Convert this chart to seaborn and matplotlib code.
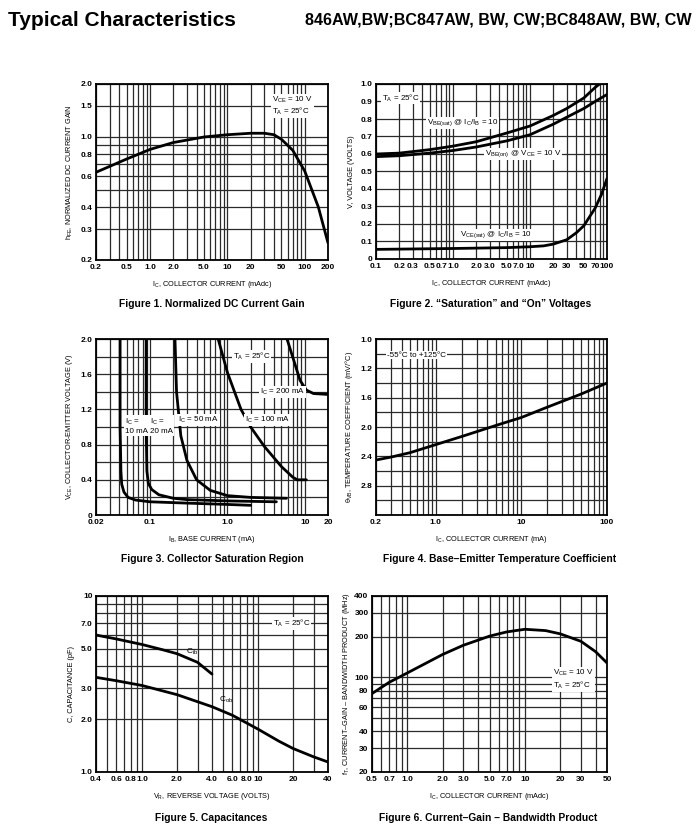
import matplotlib
matplotlib.use("Agg")
import matplotlib.pyplot as plt
import matplotlib.ticker as mticker
import seaborn as sns
import numpy as np

# Figure 1: normalized DC current gain
f1_ic = [0.2, 0.5, 1.0, 2.0, 5.0, 10, 20, 30, 40, 50, 70, 100, 150, 200]
f1_hfe = [0.63, 0.75, 0.85, 0.93, 1.0, 1.03, 1.05, 1.05, 1.03, 0.97, 0.84, 0.64, 0.40, 0.25]

# Figure 2: saturation and on voltages
f2_ic_sat = [0.1, 0.2, 0.5, 1.0, 2.0, 5.0, 10, 20, 30, 50, 70, 80]
f2_vbe_sat = [0.60, 0.605, 0.625, 0.645, 0.67, 0.72, 0.76, 0.82, 0.86, 0.92, 0.98, 1.0]
f2_ic_on = [0.1, 0.2, 0.5, 1.0, 2.0, 5.0, 10, 20, 30, 50, 70, 100]
f2_vbe_on = [0.585, 0.59, 0.605, 0.62, 0.64, 0.675, 0.71, 0.77, 0.81, 0.86, 0.90, 0.94]
f2_ic_ce = [0.1, 1.0, 5.0, 10, 15, 20, 30, 40, 50, 70, 85, 100]
f2_vce_sat = [0.055, 0.06, 0.065, 0.07, 0.075, 0.085, 0.11, 0.15, 0.19, 0.29, 0.37, 0.46]

# Figure 3: collector saturation region
f3_ib_10 = [0.041, 0.041, 0.042, 0.043, 0.046, 0.052, 0.065, 0.1, 0.3, 1.0, 2.0]
f3_vce_10 = [2.0, 1.0, 0.5, 0.35, 0.26, 0.2, 0.17, 0.15, 0.135, 0.12, 0.11]
f3_ib_20 = [0.089, 0.089, 0.091, 0.095, 0.105, 0.13, 0.2, 0.3, 1.0, 4.3]
f3_vce_20 = [2.0, 1.0, 0.5, 0.36, 0.29, 0.23, 0.19, 0.175, 0.16, 0.15]
f3_ib_50 = [0.21, 0.22, 0.25, 0.3, 0.4, 0.6, 1.0, 2.0, 5.8]
f3_vce_50 = [2.0, 1.4, 0.9, 0.62, 0.4, 0.28, 0.22, 0.2, 0.19]
f3_ib_100 = [0.76, 1.0, 1.5, 2.0, 3.0, 5.0, 7.0, 8.0, 10.5]
f3_vce_100 = [2.0, 1.62, 1.2, 1.0, 0.78, 0.55, 0.43, 0.4, 0.4]
f3_ib_200 = [5.9, 7.2, 8.7, 10.5, 13, 20]
f3_vce_200 = [2.0, 1.76, 1.53, 1.42, 1.38, 1.37]

# Figure 4: base-emitter temperature coefficient
f4_ic = [0.2, 0.3, 0.5, 1.0, 2.0, 5.0, 10, 20, 50, 100]
f4_theta = [2.45, 2.41, 2.35, 2.24, 2.13, 1.98, 1.87, 1.73, 1.55, 1.40]
f4_ticks = [0.8, 1.2, 1.6, 2.0, 2.4, 2.8]
f4_labels = ["1.0", "1.2", "1.6", "2.0", "2.4", "2.8"]

# Figure 5: capacitances
f5_vr_cib = [0.4, 0.6, 1.0, 1.5, 2.0, 3.0, 4.0]
f5_cib = [6.0, 5.7, 5.3, 4.95, 4.7, 4.2, 3.6]
f5_vr_cob = [0.4, 0.6, 1.0, 2.0, 4.0, 6.0, 10, 15, 20, 30, 40]
f5_cob = [3.45, 3.3, 3.1, 2.75, 2.35, 2.1, 1.75, 1.5, 1.36, 1.22, 1.14]

# Figure 6: current-gain bandwidth product
f6_ic = [0.5, 0.7, 1.0, 2.0, 3.0, 5.0, 7.0, 10, 15, 20, 30, 40, 50]
f6_ft = [76, 92, 108, 148, 173, 202, 217, 227, 222, 210, 185, 155, 128]

sns.set_style("white")
FONT = ["Liberation Sans Narrow", "Liberation Sans", "DejaVu Sans"]
plt.rcParams["font.family"] = FONT
plt.rcParams["mathtext.fontset"] = "custom"
plt.rcParams["mathtext.rm"] = "Liberation Sans"
plt.rcParams["mathtext.default"] = "regular"
for key in ["text.color", "axes.labelcolor", "xtick.color", "ytick.color"]:
    plt.rcParams[key] = "black"

W, H = 700, 836
fig = plt.figure(figsize=(W / 100, H / 100), dpi=100)
fig.patch.set_facecolor("white")

GRID = "#2a2a2a"
TICK_FS = 6.0
LAB_FS = 5.3
TITLE_FS = 7.4


def make_ax(l, r, t, b):
    ax = fig.add_axes([l / W, 1 - b / H, (r - l) / W, (b - t) / H])
    for s in ax.spines.values():
        s.set_linewidth(1.3)
        s.set_color("black")
        s.set_visible(True)
    return ax


def log_minor(lo, hi):
    vals = []
    for d in range(-3, 4):
        for m in range(1, 10):
            v = m * 10.0 ** d
            if lo * 0.999 <= v <= hi * 1.001:
                vals.append(v)
    return vals


def style(ax, xticks, xlabels, yticks, ylabels, xgrid, ygrid):
    ax.set_xticks(xticks)
    ax.set_xticklabels(xlabels)
    ax.set_yticks(yticks)
    ax.set_yticklabels(ylabels)
    ax.xaxis.set_minor_locator(mticker.FixedLocator(xgrid))
    ax.yaxis.set_minor_locator(mticker.FixedLocator(ygrid))
    ax.xaxis.set_minor_formatter(mticker.NullFormatter())
    ax.yaxis.set_minor_formatter(mticker.NullFormatter())
    ax.grid(which="minor", color=GRID, lw=0.9)
    ax.grid(which="major", color=GRID, lw=0.9)
    ax.tick_params(which="both", length=0, labelsize=TICK_FS)
    ax.tick_params(axis="x", pad=3)
    ax.tick_params(axis="y", pad=2.5)
    for lab in ax.get_xticklabels() + ax.get_yticklabels():
        lab.set_fontweight("bold")
    ax.set_axisbelow(True)


def labels(ax, xl, yl, ypad=4):
    ax.set_xlabel(xl, fontsize=LAB_FS)
    ax.xaxis.set_label_coords(0.5, -0.138)
    ax.xaxis.label.set_va("center")
    ax.set_ylabel(yl, fontsize=LAB_FS, labelpad=ypad)


def curve(ax, x, y):
    sns.lineplot(x=x, y=y, ax=ax, color="black", lw=2.0, sort=False,
                 estimator=None, legend=False)


def note(ax, x, y, s, ha="left"):
    ax.text(x, y, s, fontsize=5.8, ha=ha, va="center", family=FONT,
            bbox=dict(fc="white", ec="none", pad=0.6))


def ftext(x, y, s, **kw):
    kw.setdefault("family", FONT)
    fig.text(x / W, 1 - y / H, s, **kw)


def title(x, y, s):
    ftext(x, y, s, fontsize=TITLE_FS, fontweight="bold", ha="center", va="center")


# header
ftext(8, 20, "Typical Characteristics", fontsize=15, fontweight="bold",
      va="center", family=["Liberation Sans", "DejaVu Sans"])
ftext(305, 20, "846AW,BW;BC847AW, BW, CW;BC848AW, BW, CW", fontsize=11.6,
      fontweight="bold", va="center")

# ---- Figure 1
ax = make_ax(96, 328, 84, 260)
curve(ax, f1_ic, f1_hfe)
ax.set_xscale("log")
ax.set_yscale("log")
ax.set_xlim(0.2, 200)
ax.set_ylim(0.2, 2.0)
style(ax, [0.2, 0.5, 1, 2, 5, 10, 20, 50, 100, 200],
      ["0.2", "0.5", "1.0", "2.0", "5.0", "10", "20", "50", "100", "200"],
      [0.2, 0.3, 0.4, 0.6, 0.8, 1.0, 1.5, 2.0],
      ["0.2", "0.3", "0.4", "0.6", "0.8", "1.0", "1.5", "2.0"],
      log_minor(0.2, 200), log_minor(0.2, 2.0))
note(ax, 38, 1.5, "V$_{CE}$ = 10 V\nT$_A$ = 25°C")
labels(ax, "I$_C$, COLLECTOR CURRENT (mAdc)", "h$_{FE}$, NORMALIZED DC CURRENT GAIN")
title(212, 304, "Figure 1. Normalized DC Current Gain")

# ---- Figure 2
ax = make_ax(376, 607, 84, 259)
curve(ax, f2_ic_sat, f2_vbe_sat)
curve(ax, f2_ic_on, f2_vbe_on)
curve(ax, f2_ic_ce, f2_vce_sat)
ax.set_xscale("log")
ax.set_xlim(0.1, 100)
ax.set_ylim(0, 1.0)
style(ax, [0.1, 0.2, 0.3, 0.5, 0.7, 1, 2, 3, 5, 7, 10, 20, 30, 50, 70, 100],
      ["0.1", "0.2", "0.3", "0.5", "0.7", "1.0", "2.0", "3.0", "5.0", "7.0",
       "10", "20", "30", "50", "70", "100"],
      list(np.round(np.arange(0, 1.01, 0.1), 1)),
      ["0"] + ["%.1f" % v for v in np.arange(0.1, 1.01, 0.1)],
      log_minor(0.1, 100), [])
note(ax, 0.12, 0.92, "T$_A$ = 25°C")
note(ax, 0.46, 0.777, "V$_{BE(sat)}$ @ I$_C$/I$_B$ = 10")
note(ax, 2.6, 0.60, "V$_{BE(on)}$ @ V$_{CE}$ = 10 V")
note(ax, 1.23, 0.137, "V$_{CE(sat)}$ @ I$_C$/I$_B$ = 10")
labels(ax, "I$_C$, COLLECTOR CURRENT (mAdc)", "V, VOLTAGE (VOLTS)")
title(491, 304, "Figure 2. \u201cSaturation\u201d and \u201cOn\u201d Voltages")

# ---- Figure 3
ax = make_ax(96, 328, 339, 515)
for xs, ys in [(f3_ib_10, f3_vce_10), (f3_ib_20, f3_vce_20), (f3_ib_50, f3_vce_50),
               (f3_ib_100, f3_vce_100), (f3_ib_200, f3_vce_200)]:
    curve(ax, xs, ys)
ax.set_xscale("log")
ax.set_xlim(0.02, 20)
ax.set_ylim(0, 2.0)
style(ax, [0.02, 0.1, 1.0, 10, 20], ["0.02", "0.1", "1.0", "10", "20"],
      [0, 0.4, 0.8, 1.2, 1.6, 2.0], ["0", "0.4", "0.8", "1.2", "1.6", "2.0"],
      log_minor(0.02, 20), list(np.round(np.arange(0, 2.01, 0.2), 1)))
note(ax, 1.18, 1.8, "T$_A$ = 25°C")
note(ax, 10, 1.40, "I$_C$ = 200 mA", ha="right")
note(ax, 0.047, 1.01, "I$_C$ =\n10 mA")
note(ax, 0.1, 1.01, "I$_C$ =\n20 mA")
note(ax, 0.23, 1.08, "I$_C$ = 50 mA")
note(ax, 1.7, 1.08, "I$_C$ = 100 mA")
labels(ax, "I$_B$, BASE CURRENT (mA)", "V$_{CE}$, COLLECTOR-EMITTER VOLTAGE (V)")
title(212, 559, "Figure 3. Collector Saturation Region")

# ---- Figure 4
ax = make_ax(376, 607, 339, 515)
curve(ax, f4_ic, f4_theta)
ax.set_xscale("log")
ax.set_xlim(0.2, 100)
ax.set_ylim(3.2, 0.8)
style(ax, [0.2, 1.0, 10, 100], ["0.2", "1.0", "10", "100"],
      f4_ticks, f4_labels, log_minor(0.2, 100),
      list(np.round(np.arange(0.8, 3.21, 0.2), 1)))
note(ax, 0.27, 1.02, "-55°C to +125°C")
labels(ax, "I$_C$, COLLECTOR CURRENT (mA)",
       "\u03b8$_{VB}$, TEMPERATURE COEFFICIENT (mV/°C)")
title(500, 559, "Figure 4. Base\u2013Emitter Temperature Coefficient")

# ---- Figure 5
ax = make_ax(96, 328, 596, 772)
curve(ax, f5_vr_cib, f5_cib)
curve(ax, f5_vr_cob, f5_cob)
ax.set_xscale("log")
ax.set_yscale("log")
ax.set_xlim(0.4, 40)
ax.set_ylim(1.0, 10)
style(ax, [0.4, 0.6, 0.8, 1.0, 2.0, 4.0, 6.0, 8.0, 10, 20, 40],
      ["0.4", "0.6", "0.8", "1.0", "2.0", "4.0", "6.0", "8.0", "10", "20", "40"],
      [1.0, 2.0, 3.0, 5.0, 7.0, 10], ["1.0", "2.0", "3.0", "5.0", "7.0", "10"],
      log_minor(0.4, 40), log_minor(1.0, 10))
note(ax, 13.4, 7.0, "T$_A$ = 25°C")
ax.text(2.7, 4.8, "C$_{ib}$", fontsize=6, ha="center", va="center", family=FONT)
ax.text(5.3, 2.57, "C$_{ob}$", fontsize=6, ha="center", va="center", family=FONT)
labels(ax, "V$_R$, REVERSE VOLTAGE (VOLTS)", "C, CAPACITANCE (pF)")
title(211, 818, "Figure 5. Capacitances")

# ---- Figure 6
ax = make_ax(372, 607, 596, 772)
curve(ax, f6_ic, f6_ft)
ax.set_xscale("log")
ax.set_yscale("log")
ax.set_xlim(0.5, 50)
ax.set_ylim(20, 400)
style(ax, [0.5, 0.7, 1.0, 2.0, 3.0, 5.0, 7.0, 10, 20, 30, 50],
      ["0.5", "0.7", "1.0", "2.0", "3.0", "5.0", "7.0", "10", "20", "30", "50"],
      [20, 30, 40, 60, 80, 100, 200, 300, 400],
      ["20", "30", "40", "60", "80", "100", "200", "300", "400"],
      log_minor(0.5, 50), log_minor(20, 400))
note(ax, 17.3, 97, "V$_{CE}$ = 10 V\nT$_A$ = 25°C")
labels(ax, "I$_C$, COLLECTOR CURRENT (mAdc)",
       "f$_T$, CURRENT\u2013GAIN \u2013 BANDWIDTH PRODUCT (MHz)", ypad=2)
title(488, 818, "Figure 6. Current\u2013Gain \u2013 Bandwidth Product")

fig.savefig("out.png", dpi=100, facecolor="white")
